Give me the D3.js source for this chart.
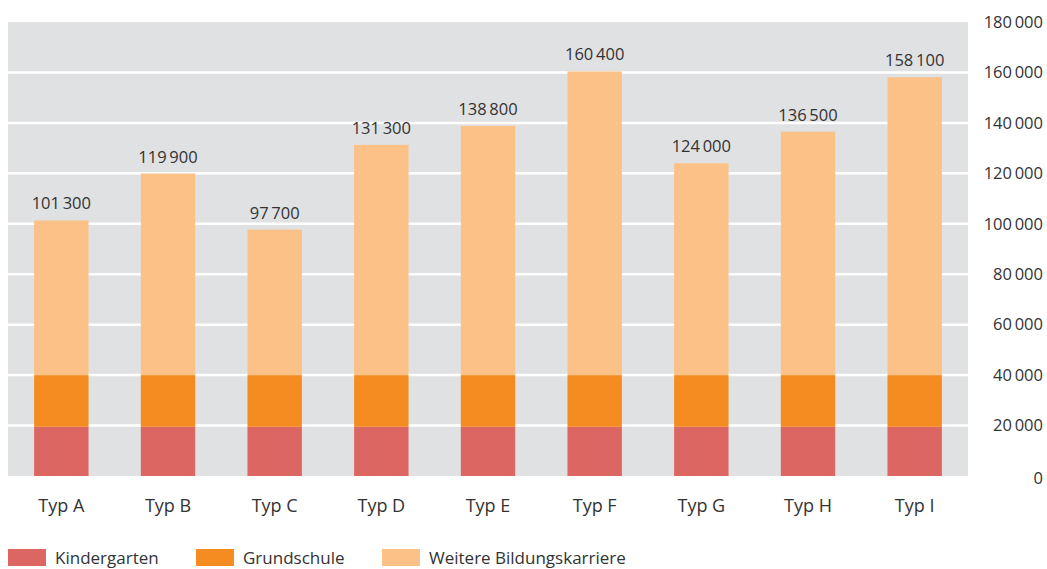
<!DOCTYPE html>
<html><head><meta charset="utf-8">
<script src="https://cdn.jsdelivr.net/npm/d3@7"></script>
<style>body{margin:0;background:#fff}svg{display:block}text{font-family:"Open Sans","Noto Sans",sans-serif;fill:#333}</style>
</head><body><svg id="c" width="1047" height="569"></svg>
<script>
const categories = ["Typ A","Typ B","Typ C","Typ D","Typ E","Typ F","Typ G","Typ H","Typ I"];
const kindergarten = [19500,19500,19500,19500,19500,19500,19500,19500,19500];
const grundschule = [20500,20500,20500,20500,20500,20500,20500,20500,20500];
const totals = [101300,119900,97700,131300,138800,160400,124000,136500,158100];
const weitere = [61300,79900,57700,91300,98800,120400,84000,96500,118100];
const yTicks = [0,20000,40000,60000,80000,100000,120000,140000,160000,180000];
const seriesNames = ["Kindergarten","Grundschule","Weitere Bildungskarriere"];
const colors = ["#dc6661","#f48c21","#fbc187"];

(function(){
const fmt = v => { const s = String(v); return s.length > 3 ? s.slice(0, s.length-3) + "\u2009" + s.slice(-3) : s; };

const svg = d3.select("#c");
const pL = 8, pR = 968, pT = 22, pB = 476;
const x = d3.scaleBand().domain(categories).range([pL,pR]).paddingInner(0.49).paddingOuter(0.245);
const y = d3.scaleLinear().domain([0,180000]).range([pB,pT]);

svg.append("rect").attr("x",pL).attr("y",pT).attr("width",pR-pL).attr("height",pB-pT).attr("fill","#e0e1e3");

svg.selectAll(".grid").data(yTicks.filter(d=>d>0 && d<180000)).enter().append("line")
  .attr("x1",pL).attr("x2",pR).attr("y1",d=>y(d)).attr("y2",d=>y(d))
  .attr("stroke","#fff").attr("stroke-width",2.5);

const data = categories.map((c,i)=>({cat:c, Kindergarten:kindergarten[i], Grundschule:grundschule[i], "Weitere Bildungskarriere":weitere[i]}));
const stack = d3.stack().keys(seriesNames)(data);
svg.selectAll(".s").data(stack).enter().append("g").attr("fill",(d,i)=>colors[i])
  .selectAll("rect").data(d=>d).enter().append("rect")
  .attr("x",d=>x(d.data.cat)).attr("width",x.bandwidth())
  .attr("y",d=>y(d[1])).attr("height",d=>y(d[0])-y(d[1]));

svg.selectAll(".tot").data(totals).enter().append("text")
  .attr("x",(d,i)=>x(categories[i])+x.bandwidth()/2).attr("y",d=>y(d)-11)
  .attr("text-anchor","middle").attr("font-size",16.5).text(fmt);

const yAxis = d3.axisRight(y).tickValues(yTicks).tickSize(0).tickPadding(0).tickFormat(fmt);
const ga = svg.append("g").attr("transform","translate(1043,0)").call(yAxis);
ga.select(".domain").remove();
ga.selectAll("text").attr("text-anchor","end").attr("font-size",16.5).attr("fill","#333")
  .style("font-family",'"Open Sans","Noto Sans",sans-serif');
ga.selectAll("text").filter(d=>d===0).attr("dy","0.45em");

const xAxis = d3.axisBottom(x).tickSize(0).tickPadding(0);
const gx = svg.append("g").attr("transform",`translate(0,${pB})`).call(xAxis);
gx.select(".domain").remove();
gx.selectAll("text").attr("y",23).attr("font-size",18).attr("fill","#333")
  .style("font-family",'"Open Sans","Noto Sans",sans-serif');

const legX = [8,196,382];
const lg = svg.selectAll(".lg").data(seriesNames).enter().append("g").attr("transform",(d,i)=>`translate(${legX[i]},549)`);
lg.append("rect").attr("width",38).attr("height",17).attr("fill",(d,i)=>colors[i]);
lg.append("text").attr("x",47).attr("y",15).attr("font-size",17).text(d=>d);
})();
</script></body></html>
